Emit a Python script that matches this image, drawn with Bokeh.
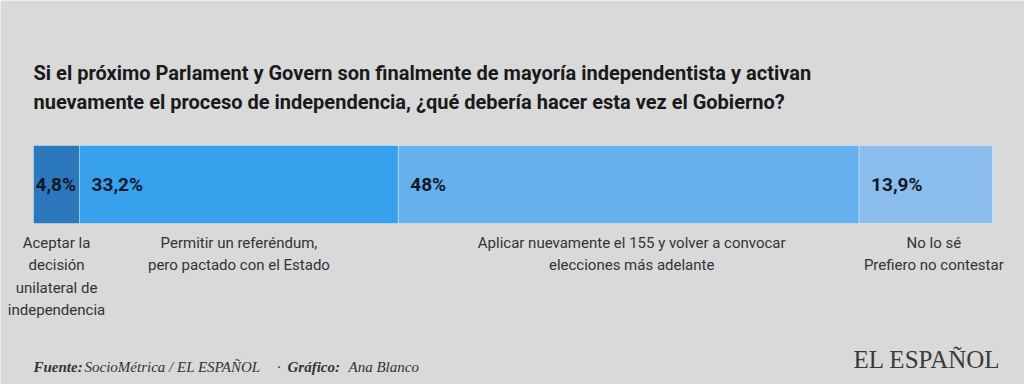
from bokeh.plotting import figure
from bokeh.models import ColumnDataSource, Range1d
from bokeh.core.properties import value
from bokeh.embed import file_html
from bokeh.resources import INLINE

# ---- data ----
categories = [
    "Aceptar la\ndecisión\nunilateral de\nindependencia",
    "Permitir un referéndum,\npero pactado con el Estado",
    "Aplicar nuevamente el 155 y volver a convocar\nelecciones más adelante",
    "No lo sé\nPrefiero no contestar",
]
values = [4.8, 33.2, 48.0, 13.9]
value_labels = ["4,8%", "33,2%", "48%", "13,9%"]
colors = ["#2b78bc", "#37a1ee", "#65b1ee", "#8bbdec"]

title_lines = [
    "Si el próximo Parlament y Govern son finalmente de mayoría independentista y activan",
    "nuevamente el proceso de independencia, ¿qué debería hacer esta vez el Gobierno?",
]

# ---- layout ----
W, H = 1024, 384
BAR_LEFT, BAR_W = 33, 960          # canvas px for 0..100
BG = "#d9d9d9"

def px(x):
    return (x - BAR_LEFT) / BAR_W * 100.0

starts, ends = [], []
acc = 0.0
for v in values:
    starts.append(acc)
    acc += v
    ends.append(acc)
centers = [(s + e) / 2 for s, e in zip(starts, ends)]

p = figure(width=W, height=H, output_backend="svg", toolbar_location=None,
           x_range=Range1d(px(0), px(W)), y_range=Range1d(H, 0),
           min_border=0, min_border_left=0, min_border_right=0,
           min_border_top=0, min_border_bottom=0)
p.axis.visible = False
p.grid.visible = False
p.outline_line_color = None
p.background_fill_color = BG
p.border_fill_color = BG

src = ColumnDataSource(dict(
    left=starts, right=ends, color=colors,
    lab=value_labels, cat=categories, center=centers,
    xoff=[2 if v < 10 else 12 for v in values],
    coff=[0, 0, 3, 8],
))

p.hbar(y=184, left="left", right="right", height=78, fill_color="color",
       line_color="white", line_alpha=0.35, line_width=1, source=src)

p.text(x="left", y=184, text="lab", x_offset="xoff", source=src,
       text_font=value("Roboto"), text_font_style="bold",
       text_font_size="19px", text_color="#111827",
       text_baseline="middle", text_align="left")

p.text(x="center", y=233, text="cat", x_offset="coff", source=src,
       text_font=value("Roboto"), text_font_size="15px", text_color="#333333",
       text_baseline="top", text_align="center", text_line_height=1.25)

# title
p.text(x=[0, 0], y=[72, 101], text=title_lines,
       text_font=value("Roboto"), text_font_style="bold",
       text_font_size="20px", text_color="#1a1a1a",
       text_baseline="middle", text_align="left")

# footer pieces
foot_text = ["Fuente:", "SocioMétrica / EL ESPAÑOL", "·", "Gráfico:", "Ana Blanco"]
foot_px = [33, 84, 276, 287, 348]
foot_style = ["bold italic", "italic", "normal", "bold italic", "italic"]
for t, xp, st in zip(foot_text, foot_px, foot_style):
    p.text(x=[px(xp)], y=[366], text=[t],
           text_font=value("Liberation Serif"), text_font_style=st,
           text_font_size="15px", text_color="#333333",
           text_baseline="middle", text_align="left")

# logo
p.text(x=[px(1000)], y=[359], text=["EL ESPAÑOL"],
       text_font=value("Liberation Serif"), text_font_size="25px",
       text_color="#3a3a3a", text_baseline="middle", text_align="right")

html = file_html(p, INLINE)
html = html.replace("<body>", '<body style="background:%s;">' % BG, 1)
open("out.html", "w").write(html)
